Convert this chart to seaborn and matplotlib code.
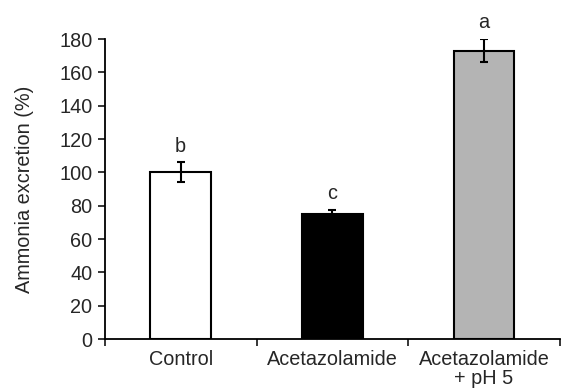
import matplotlib
matplotlib.use("Agg")
import matplotlib.pyplot as plt
import seaborn as sns
import pandas as pd

categories = ["Control", "Acetazolamide", "Acetazolamide\n+ pH 5"]
values = [100, 75, 173]
errors = [6, 2.5, 7]
letters = ["b", "c", "a"]
colors = ["#ffffff", "#000000", "#b4b4b4"]

sns.set_style("white")
plt.rcParams['font.family'] = ['Liberation Sans', 'DejaVu Sans']
FS = 14.3

df = pd.DataFrame({"cat": categories, "val": values})
fig = plt.figure(figsize=(5.61, 3.92), dpi=100)
ax = fig.add_axes([0.187, 0.135, 0.811, 0.7655])
sns.barplot(data=df, x="cat", y="val", hue="cat", palette=colors, legend=False,
            width=0.4, edgecolor="black", linewidth=1.5, ax=ax, errorbar=None)
ax.errorbar(range(len(values)), values, yerr=errors, fmt="none", ecolor="black",
            elinewidth=1.5, capsize=3, capthick=1.5)
for i, (v, e, l) in enumerate(zip(values, errors, letters)):
    ax.text(i, v + e + 4, l, ha="center", va="bottom", fontsize=FS)

ax.set_ylim(0, 180)
ax.set_xlim(-0.5, 2.5)
ax.set_yticks(range(0, 181, 20))
ax.set_xticks([0, 1, 2])
ax.set_xticklabels(categories, fontsize=FS, linespacing=1.0)
ax.set_xticks([-0.5, 0.5, 1.5, 2.5], minor=True)
ax.tick_params(axis="x", which="major", length=0, pad=8)
ax.tick_params(axis="x", which="minor", length=5, width=1.3, direction="out", bottom=True)
ax.tick_params(axis="y", length=5, width=1.3, direction="out", left=True, labelsize=FS, pad=4)
ax.set_xlabel("")
ax.set_ylabel("Ammonia excretion (%)", fontsize=FS, labelpad=18)
for s in ["top", "right"]:
    ax.spines[s].set_visible(False)
for s in ["left", "bottom"]:
    ax.spines[s].set_color("black")
    ax.spines[s].set_linewidth(1.3)
fig.savefig("out.png", dpi=100)
